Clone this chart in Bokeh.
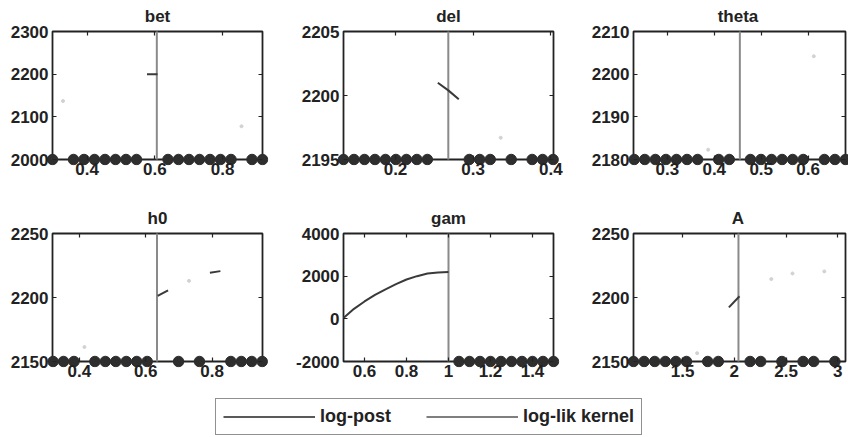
from bokeh.plotting import figure
from bokeh.layouts import column, row
from bokeh.models import Range1d, LinearAxis, FixedTicker, Legend, LegendItem
from bokeh.embed import file_html
from bokeh.resources import INLINE

nan = float("nan")

# ---------------- data ----------------
# bet
bet_xlim = [0.298, 0.918]
bet_ylim = [2000, 2300]
bet_xticks = [0.4, 0.6, 0.8]
bet_xlabels = ["0.4", "0.6", "0.8"]
bet_yticks = [2000, 2100, 2200, 2300]
bet_kernel = 0.606
bet_post_x = [0.577, 0.608]
bet_post_y = [2200, 2200]
bet_dot_x = [0.329, 0.856]
bet_dot_y = [2137, 2078]
bet_neginf_x = [0.298, 0.360, 0.391, 0.422, 0.453, 0.484, 0.515, 0.546,
                0.639, 0.670, 0.701, 0.732, 0.763, 0.794, 0.825, 0.887, 0.918]

# del
del_xlim = [0.133, 0.4035]
del_ylim = [2195, 2205]
del_xticks = [0.2, 0.3, 0.4]
del_xlabels = ["0.2", "0.3", "0.4"]
del_yticks = [2195, 2200, 2205]
del_kernel = 0.268
del_post_x = [0.2545, 0.268, 0.2815]
del_post_y = [2201.0, 2200.4, 2199.7]
del_dot_x = [0.3355]
del_dot_y = [2196.7]
del_neginf_x = [0.133, 0.1465, 0.160, 0.1735, 0.187, 0.2005, 0.214, 0.2275, 0.241,
                0.295, 0.3085, 0.322, 0.349, 0.376, 0.3895, 0.403]

# theta
theta_xlim = [0.228, 0.6795]
theta_ylim = [2180, 2210]
theta_xticks = [0.3, 0.4, 0.5, 0.6]
theta_xlabels = ["0.3", "0.4", "0.5", "0.6"]
theta_yticks = [2180, 2190, 2200, 2210]
theta_kernel = 0.4545
theta_post_x = []
theta_post_y = []
theta_dot_x = [0.387, 0.612]
theta_dot_y = [2182.3, 2204.2]
theta_neginf_x = [0.2295, 0.252, 0.2745, 0.297, 0.3195, 0.342, 0.3645, 0.4095, 0.432,
                  0.477, 0.4995, 0.522, 0.5445, 0.567, 0.5895, 0.6345, 0.657, 0.6795]

# h0
h0_xlim = [0.319, 0.952]
h0_ylim = [2150, 2250]
h0_xticks = [0.4, 0.6, 0.8]
h0_xlabels = ["0.4", "0.6", "0.8"]
h0_yticks = [2150, 2200, 2250]
h0_kernel = 0.634
h0_post_x = [0.6359, 0.6674, nan, 0.7935, 0.8251]
h0_post_y = [2201.2, 2205.6, nan, 2219.4, 2220.6]
h0_dot_x = [0.4153, 0.7305]
h0_dot_y = [2161.3, 2213.0]
h0_neginf_x = [0.3207, 0.3522, 0.3837, 0.4468, 0.4783, 0.5098, 0.5414, 0.5729, 0.6044,
               0.699, 0.762, 0.8566, 0.8881, 0.9196, 0.9511]

# gam
gam_xlim = [0.5, 1.5]
gam_ylim = [-2000, 4000]
gam_xticks = [0.6, 0.8, 1.0, 1.2, 1.4]
gam_xlabels = ["0.6", "0.8", "1", "1.2", "1.4"]
gam_yticks = [-2000, 0, 2000, 4000]
gam_kernel = 1.0
gam_post_x = [0.5, 0.55, 0.6, 0.65, 0.7, 0.75, 0.8, 0.85, 0.9, 0.95, 1.0]
gam_post_y = [40, 470, 814, 1120, 1382, 1623, 1843, 2000, 2121, 2170, 2195]
gam_dot_x = []
gam_dot_y = []
gam_neginf_x = [1.05, 1.1, 1.15, 1.2, 1.25, 1.3, 1.35, 1.4, 1.45, 1.5]

# A
A_xlim = [1.025, 3.075]
A_ylim = [2150, 2250]
A_xticks = [1.5, 2.0, 2.5, 3.0]
A_xlabels = ["1.5", "2", "2.5", "3"]
A_yticks = [2150, 2200, 2250]
A_kernel = 2.04
A_post_x = [1.9475, 2.05]
A_post_y = [2192.3, 2201.0]
A_dot_x = [1.64, 2.3575, 2.5625, 2.87]
A_dot_y = [2156.5, 2214.4, 2218.8, 2220.4]
A_neginf_x = [1.025, 1.1275, 1.23, 1.3325, 1.435, 1.5375, 1.7425, 1.845,
              2.1525, 2.255, 2.46, 2.665, 2.7675, 2.9725]

legend_labels = ["log-post", "log-lik kernel"]

# ---------------- style ----------------
FONT = "Liberation Sans"
DARK = "#222222"
GREY = "#8a8a8a"
FAINT = "#d2d2d2"

panels = [
    dict(title="bet", xlim=bet_xlim, ylim=bet_ylim, xt=bet_xticks, xl=bet_xlabels, yt=bet_yticks,
         k=bet_kernel, px=bet_post_x, py=bet_post_y, dx=bet_dot_x, dy=bet_dot_y, nx=bet_neginf_x),
    dict(title="del", xlim=del_xlim, ylim=del_ylim, xt=del_xticks, xl=del_xlabels, yt=del_yticks,
         k=del_kernel, px=del_post_x, py=del_post_y, dx=del_dot_x, dy=del_dot_y, nx=del_neginf_x),
    dict(title="theta", xlim=theta_xlim, ylim=theta_ylim, xt=theta_xticks, xl=theta_xlabels, yt=theta_yticks,
         k=theta_kernel, px=theta_post_x, py=theta_post_y, dx=theta_dot_x, dy=theta_dot_y, nx=theta_neginf_x),
    dict(title="h0", xlim=h0_xlim, ylim=h0_ylim, xt=h0_xticks, xl=h0_xlabels, yt=h0_yticks,
         k=h0_kernel, px=h0_post_x, py=h0_post_y, dx=h0_dot_x, dy=h0_dot_y, nx=h0_neginf_x),
    dict(title="gam", xlim=gam_xlim, ylim=gam_ylim, xt=gam_xticks, xl=gam_xlabels, yt=gam_yticks,
         k=gam_kernel, px=gam_post_x, py=gam_post_y, dx=gam_dot_x, dy=gam_dot_y, nx=gam_neginf_x),
    dict(title="A", xlim=A_xlim, ylim=A_ylim, xt=A_xticks, xl=A_xlabels, yt=A_yticks,
         k=A_kernel, px=A_post_x, py=A_post_y, dx=A_dot_x, dy=A_dot_y, nx=A_neginf_x),
]

# layout (pixels): per column: min_border_left, frame width, min_border_right, padL, padR
cols = [(46, 222, 19, 6, 6), (50, 222, 28, 6, 6), (40, 221, 0, 6, 3)]
# per row: min_border_top, frame height, min_border_bottom, padT, padB
rows = [(28, 136, 37, 2, 6), (28, 136, 20, 2, 6)]


def make_panel(d, col, rw):
    bl, fw, br, pl, pr = col
    bt, fh, bb, pt, pb = rw
    xlo, xhi = d["xlim"]
    ylo, yhi = d["ylim"]
    ux = (xhi - xlo) / (fw - pl - pr)
    uy = (yhi - ylo) / (fh - pt - pb)
    p = figure(frame_width=fw, frame_height=fh,
               x_range=Range1d(xlo - pl * ux, xhi + pr * ux),
               y_range=Range1d(ylo - pb * uy, yhi + pt * uy),
               x_axis_location=None, y_axis_location=None,
               toolbar_location=None, output_backend="svg",
               min_border_left=bl, min_border_right=br,
               min_border_top=bt, min_border_bottom=bb)
    p.outline_line_color = None
    p.background_fill_color = "white"
    p.border_fill_color = "white"
    p.grid.visible = False
    p.title.text = d["title"]
    p.title.align = "center"
    p.title.text_font = FONT
    p.title.text_font_style = "bold"
    p.title.text_font_size = "17px"
    p.title.text_color = DARK
    p.title.standoff = 8

    lab = dict(major_tick_in=0, major_tick_out=0, minor_tick_in=0, minor_tick_out=0,
               axis_line_color=None, major_tick_line_color=None,
               major_label_text_font=FONT, major_label_text_font_style="bold",
               major_label_text_font_size="17px", major_label_text_color=DARK)
    yl = [str(v) for v in d["yt"]]
    # labelled axes at the (padded) frame edges
    left = LinearAxis(ticker=FixedTicker(ticks=d["yt"]),
                      major_label_overrides=dict(zip(d["yt"], yl)),
                      major_label_standoff=4 - pl, **lab)
    bottom = LinearAxis(ticker=FixedTicker(ticks=d["xt"]),
                        major_label_overrides=dict(zip(d["xt"], d["xl"])),
                        major_label_standoff=-3, **lab)
    p.add_layout(left, "left")
    p.add_layout(bottom, "below")

    # inward tick marks on all four sides of the box
    tk = dict(major_tick_in=4, major_tick_out=0, minor_tick_in=0, minor_tick_out=0,
              axis_line_color=None, major_tick_line_color=DARK, major_tick_line_width=1.2,
              major_label_text_color=None, major_label_standoff=0)
    p.add_layout(LinearAxis(ticker=FixedTicker(ticks=d["yt"]), fixed_location=xlo, **tk), "left")
    p.add_layout(LinearAxis(ticker=FixedTicker(ticks=d["yt"]), fixed_location=xhi, **tk), "right")
    p.add_layout(LinearAxis(ticker=FixedTicker(ticks=d["xt"]), fixed_location=ylo, **tk), "below")
    p.add_layout(LinearAxis(ticker=FixedTicker(ticks=d["xt"]), fixed_location=yhi, **tk), "above")

    # frame box
    p.quad(left=[xlo], right=[xhi], bottom=[ylo], top=[yhi],
           fill_color=None, line_color=DARK, line_width=1.8)
    # faint isolated points
    if d["dx"]:
        p.scatter(d["dx"], d["dy"], size=3, fill_color=FAINT, line_color=FAINT)
    # log-lik kernel line
    p.segment(x0=[d["k"]], y0=[ylo], x1=[d["k"]], y1=[yhi], line_color=GREY, line_width=2)
    # log-post line
    if d["px"]:
        p.line(d["px"], d["py"], line_color="#3a3a3a", line_width=2)
    # -inf values, drawn at the bottom
    p.scatter(d["nx"], [ylo] * len(d["nx"]), size=10.5, fill_color="#2e2e2e", line_color="#2e2e2e")
    return p


figs = []
for i, d in enumerate(panels):
    figs.append(make_panel(d, cols[i % 3], rows[i // 3]))

# legend figure
lf = figure(width=848, height=50, x_range=Range1d(0, 1), y_range=Range1d(0, 1),
            x_axis_location=None, y_axis_location=None, toolbar_location=None,
            output_backend="svg", min_border=0)
lf.outline_line_color = None
lf.grid.visible = False
r1 = lf.line(x=[nan], y=[nan], line_color="#222222", line_width=1.6)
r2 = lf.line(x=[nan], y=[nan], line_color="#555555", line_width=1.6)
leg = Legend(items=[LegendItem(label=legend_labels[0], renderers=[r1]),
                    LegendItem(label=legend_labels[1], renderers=[r2])],
             orientation="horizontal", location=(215, 2), margin=0,
             glyph_width=92, glyph_height=19, label_height=19, label_width=106,
             label_standoff=5, spacing=0, padding=7,
             border_line_color=DARK, border_line_width=1.6,
             label_text_font=FONT, label_text_font_style="bold", label_text_font_size="18px",
             label_text_color=DARK, background_fill_color="white")
lf.add_layout(leg)

layout = column(row(figs[0], figs[1], figs[2]), row(figs[3], figs[4], figs[5]), lf)

open("out.html", "w").write(file_html(layout, INLINE))
